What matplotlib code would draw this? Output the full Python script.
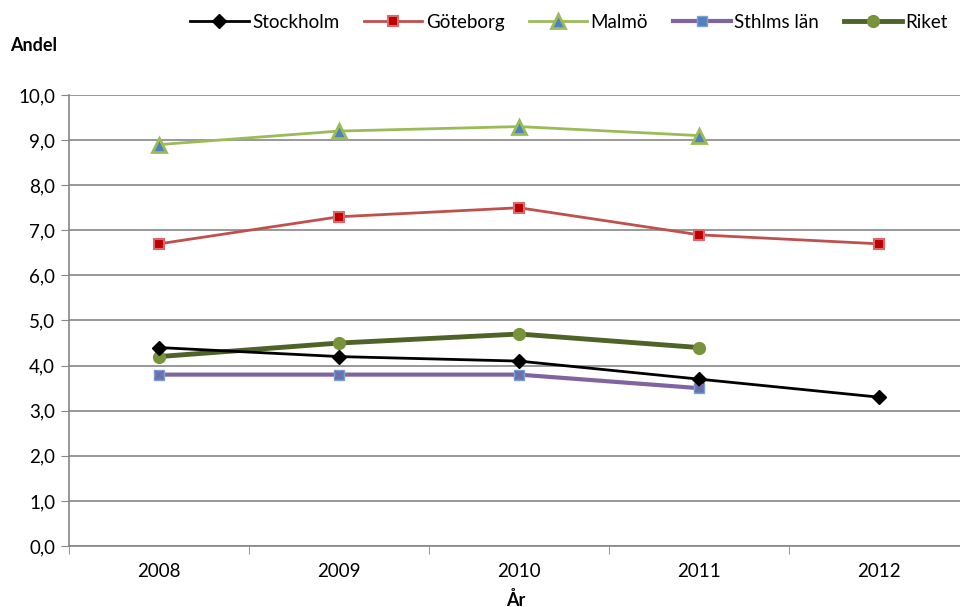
import matplotlib.pyplot as plt
from matplotlib.ticker import FixedLocator, FuncFormatter

plt.rcParams['font.family'] = ['Lato', 'DejaVu Sans']

years = ['2008', '2009', '2010', '2011', '2012']
stockholm = [4.4, 4.2, 4.1, 3.7, 3.3]
goteborg = [6.7, 7.3, 7.5, 6.9, 6.7]
malmo = [8.9, 9.2, 9.3, 9.1]
sthlms_lan = [3.8, 3.8, 3.8, 3.5]
riket = [4.2, 4.5, 4.7, 4.4]

fig = plt.figure(figsize=(9.6, 6.07), dpi=100)
ax = fig.add_axes([0.0719, 0.1005, 0.9375, 0.743])

x5 = list(range(len(years)))
x4 = x5[:4]

ax.plot(x5, stockholm, color='black', linewidth=2, marker='D', markersize=7,
        markerfacecolor='black', markeredgecolor='black', label='Stockholm', zorder=5)
ax.plot(x5, goteborg, color='#c0504d', linewidth=2, marker='s', markersize=7,
        markerfacecolor='#c00000', markeredgecolor='#d9696a', markeredgewidth=1.5,
        label='Göteborg', zorder=4)
ax.plot(x4, malmo, color='#9bbb59', linewidth=2, marker='^', markersize=9.5,
        markerfacecolor='#4f81bd', markeredgecolor='#9bbb59', markeredgewidth=2,
        label='Malmö', zorder=4)
ax.plot(x4, sthlms_lan, color='#8064a2', linewidth=3, marker='s', markersize=7.5,
        markerfacecolor='#4f81bd', markeredgecolor='#7f9fd0', markeredgewidth=1,
        label='Sthlms län', zorder=4)
ax.plot(x4, sthlms_lan, linestyle='none', marker='x', markersize=5.5,
        markeredgecolor='#8064a2', markeredgewidth=1.2, zorder=6)
ax.plot(x4, riket, color='#4f6228', linewidth=3.5, marker='o', markersize=8.5,
        markerfacecolor='#77933c', markeredgecolor='#77933c', label='Riket', zorder=4)

ax.set_xlim(-0.5, 4.5)
ax.set_ylim(0, 10)
ax.set_xticks(x5)
ax.set_xticklabels(years)
ax.xaxis.set_minor_locator(FixedLocator([-0.5, 0.5, 1.5, 2.5, 3.5, 4.5]))
ax.tick_params(axis='x', which='major', length=0, labelsize=13.5, pad=12, colors='black')
ax.tick_params(axis='x', which='minor', length=6, color='#868686', direction='out')
ax.set_yticks([i for i in range(11)])
ax.yaxis.set_major_formatter(FuncFormatter(lambda v, p: f'{v:.1f}'.replace('.', ',')))
ax.tick_params(axis='y', length=6, color='#868686', labelsize=13.5, pad=4, labelcolor='black')

ax.grid(axis='y', color='#868686', linewidth=1.2)
ax.set_axisbelow(True)
for side in ['top', 'right']:
    ax.spines[side].set_visible(False)
for side in ['left', 'bottom']:
    ax.spines[side].set_color('#868686')
    ax.spines[side].set_linewidth(1.2)

fig.text(0.010, 0.925, 'Andel', fontsize=13, fontweight='bold', ha='left', va='center')
fig.text(0.537, 0.012, 'År', fontsize=13, fontweight='bold', ha='center', va='center')

handles, labels = ax.get_legend_handles_labels()
fig.legend(handles, labels, loc='center right', bbox_to_anchor=(1.005, 0.963), ncol=5,
           frameon=False, fontsize=13.5, handlelength=3.1, handletextpad=0.2,
           columnspacing=1.3)

plt.savefig('out.png', dpi=100)
plt.close()
